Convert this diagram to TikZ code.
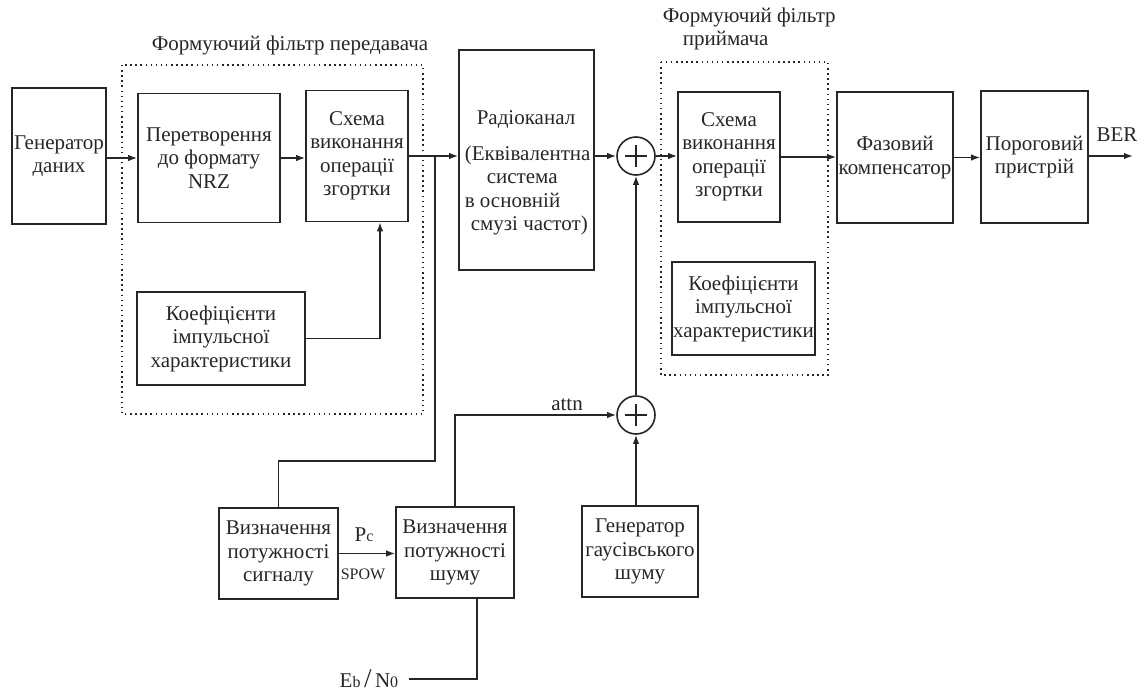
\documentclass[tikz,border=0pt]{standalone}
\usepackage{fontspec}
\setmainfont{Liberation Serif}
\usetikzlibrary{arrows.meta}

\newcommand{\bigtxt}{\fontsize{21}{23.5}\selectfont}
\newcommand{\smtxt}{\fontsize{16}{16}\selectfont}

\begin{document}
\begin{tikzpicture}[x=1pt,y=-1pt,line width=1.6pt,color=black!85,
    blk/.style={draw, align=center, inner sep=0pt, font=\bigtxt},
    lbl/.style={inner sep=0pt, align=center, font=\bigtxt},
    arr/.style={-{Latex[length=9pt,width=6.5pt]}},
    dotbox/.style={line width=1.7pt, dash pattern=on 1.5pt off 3.6pt},
    sumnode/.style={circle, draw, minimum size=38pt, inner sep=0pt,
        path picture={\draw[line width=1.2pt]
            ([xshift=-11pt]path picture bounding box.center) -- ([xshift=11pt]path picture bounding box.center)
            ([yshift=-11pt]path picture bounding box.center) -- ([yshift=11pt]path picture bounding box.center);}}]
    \useasboundingbox (0,0) rectangle (1145,693);

    % filter frames
    \node[lbl] (txtitle) at (290,45) {Формуючий фільтр передавача};
    \node[lbl, align=left, anchor=west] (rxtitle) at (662,29) {Формуючий фільтр\\\hspace*{20pt}приймача};
    \draw[dotbox] (122,65) rectangle (423,414);
    \draw[dotbox] (661,62) rectangle (828,375);

    % top row
    \node[blk, minimum width=94, minimum height=136] (gen) at (59,156) {Генератор\\даних};
    \node[blk, minimum width=142, minimum height=129] (nrz) at (209,158) {Перетворення\\до формату\\NRZ};
    \node[blk, minimum width=102, minimum height=131] (conv) at (357,156) {Схема\\виконання\\операції\\згортки};
    \node[blk, minimum width=135, minimum height=220] (radio) at (526.5,160) {};
    \node[lbl, align=left, anchor=west] (radiotxt) at (464,173)
        {\hspace*{12pt}Радіоканал\\[12pt](Еквівалентна\\\hspace*{22pt}система\\в основній\\\hspace*{6pt}смузі частот)};
    \node[sumnode] (sumA) at (636,156) {};
    \node[blk, minimum width=102, minimum height=130] (rxconv) at (729,157) {Схема\\виконання\\операції\\згортки};
    \node[blk, minimum width=116, minimum height=131] (phase) at (895,157.5) {Фазовий\\компенсатор};
    \node[blk, minimum width=107, minimum height=132] (thr) at (1034.5,157) {Пороговий\\пристрій};
    \coordinate (ber) at (1133,156);
    \node[lbl] (bertxt) at (1117,135) {BER};

    % coefficients
    \node[blk, minimum width=168, minimum height=93] (coefA) at (221,338.5) {Коефіцієнти\\імпульсної\\характеристики};
    \node[blk, minimum width=143, minimum height=93] (coefB) at (743.5,308.5) {Коефіцієнти\\імпульсної\\характеристики};

    % bottom row
    \node[sumnode] (sumB) at (636,415) {};
    \node[blk, minimum width=119, minimum height=91] (psig) at (278.5,553.5) {Визначення\\потужності\\сигналу};
    \node[blk, minimum width=118, minimum height=91] (pnoise) at (455,552.5) {Визначення\\потужності\\шуму};
    \node[blk, minimum width=116, minimum height=91] (gauss) at (640,551.5) {Генератор\\гаусівського\\шуму};
    \node[lbl] (pc) at (364,535) {P{\smtxt c}};
    \node[lbl, font=\smtxt] (spow) at (363,574) {SPOW};
    \node[lbl] (attn) at (567,405) {attn};
    \node[lbl, anchor=east] (ebn0) at (399,679) {E{\smtxt b}\,{\fontsize{27}{27}\selectfont/}\,N{\smtxt 0}};
    \coordinate (ebin) at (409,679);
    \coordinate (br) at (435,156);
    \coordinate (brlow) at (435,461);

    \draw[arr] (gen.east |- nrz) -- (nrz.west);
    \draw[arr] (nrz.east) -- (nrz.east -| conv.west);
    \draw[arr] (conv.east) -- (conv.east -| radio.west);
    \draw[arr] (coefA.east) -| ([xshift=23pt]conv.south);
    \draw (br) -- (brlow) -| (psig.north);
    \draw[arr] (radio.east |- sumA) -- (sumA.west);
    \draw[arr] (sumA.east) -- (sumA.east -| rxconv.west);
    \draw[arr] (rxconv.east) -- (rxconv.east -| phase.west);
    \draw[arr] (phase.east) -- (phase.east -| thr.west);
    \draw[arr] (thr.east |- ber) -- (ber);
    \draw[arr] (psig.east) -- (psig.east -| pnoise.west);
    \draw[arr] (pnoise.north) |- (sumB.west);
    \draw[arr] (gauss.north -| sumB) -- (sumB.south);
    \draw[arr] (sumB.north) -- (sumA.south);
    \draw ([xshift=22pt]pnoise.south) |- (ebin);
\end{tikzpicture}
\end{document}
